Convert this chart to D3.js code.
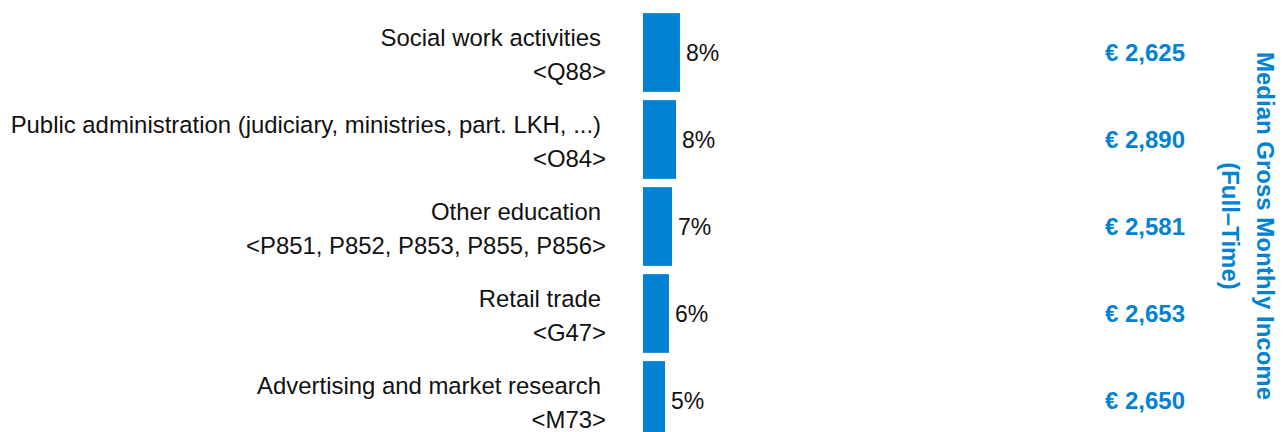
<!DOCTYPE html>
<html>
<head>
<meta charset="utf-8">
<script src="https://cdn.jsdelivr.net/npm/d3@7"></script>
<style>
  html, body { margin: 0; padding: 0; background: #fff; }
  svg { display: block; font-family: "Liberation Sans", Arial, sans-serif; }
</style>
</head>
<body>
<svg id="chart" width="1284" height="432"></svg>
<script>
const categories = [
  "Social work activities",
  "Public administration (judiciary, ministries, part. LKH, ...)",
  "Other education",
  "Retail trade",
  "Advertising and market research"
];
const codes = ["<Q88>", "<O84>", "<P851, P852, P853, P855, P856>", "<G47>", "<M73>"];
const shares = [8.4, 7.5, 6.6, 5.9, 5.0];
const shareLabels = ["8%", "8%", "7%", "6%", "5%"];
const incomes = [2625, 2890, 2581, 2653, 2650];
const titleLines = ["Median Gross Monthly Income", "(Full\u2013Time)"];

const BLUE = "#0282d3";
const svg = d3.select("#chart");

const y = d3.scaleBand()
  .domain(categories)
  .range([9, 444])
  .paddingInner(0.095)
  .paddingOuter(0.0475);

const x = d3.scaleLinear().domain([0, 10]).range([643, 687]);

const rows = categories.map((c, i) => ({c, code: codes[i], v: shares[i], lab: shareLabels[i], inc: incomes[i]}));

// bars
svg.append("g").selectAll("rect").data(rows).join("rect")
  .attr("x", x(0))
  .attr("y", d => y(d.c))
  .attr("width", d => x(d.v) - x(0))
  .attr("height", y.bandwidth())
  .attr("fill", BLUE);

// share labels
svg.append("g").selectAll("text").data(rows).join("text")
  .attr("x", d => x(d.v) + 6)
  .attr("y", d => y(d.c) + y.bandwidth() / 2)
  .attr("dy", "0.36em")
  .attr("font-size", 23)
  .attr("fill", "#111")
  .text(d => d.lab);

// category labels
const cat = svg.append("g").selectAll("g").data(rows).join("g");
cat.append("text")
  .attr("x", 601)
  .attr("y", d => y(d.c) + 33)
  .attr("text-anchor", "end")
  .attr("font-size", 23.9)
  .attr("fill", "#111")
  .text(d => d.c);
cat.append("text")
  .attr("x", 606)
  .attr("y", d => y(d.c) + 67)
  .attr("text-anchor", "end")
  .attr("font-size", 23.9)
  .attr("fill", "#111")
  .text(d => d.code);

// income values
const fmt = d3.format(",");
svg.append("g").selectAll("text").data(rows).join("text")
  .attr("x", 1185)
  .attr("y", d => y(d.c) + y.bandwidth() / 2)
  .attr("dy", "0.36em")
  .attr("text-anchor", "end")
  .attr("font-size", 24)
  .attr("font-weight", "bold")
  .attr("fill", BLUE)
  .text(d => "\u20ac " + fmt(d.inc));

// vertical title
const tg = svg.append("g").attr("transform", "translate(1256.5,226) rotate(90)");
tg.selectAll("text").data(titleLines).join("text")
  .attr("x", 0)
  .attr("y", (d, i) => i * 35)
  .attr("text-anchor", "middle")
  .attr("font-size", 24)
  .attr("font-weight", "bold")
  .attr("fill", BLUE)
  .text(d => d);
</script>
</body>
</html>
